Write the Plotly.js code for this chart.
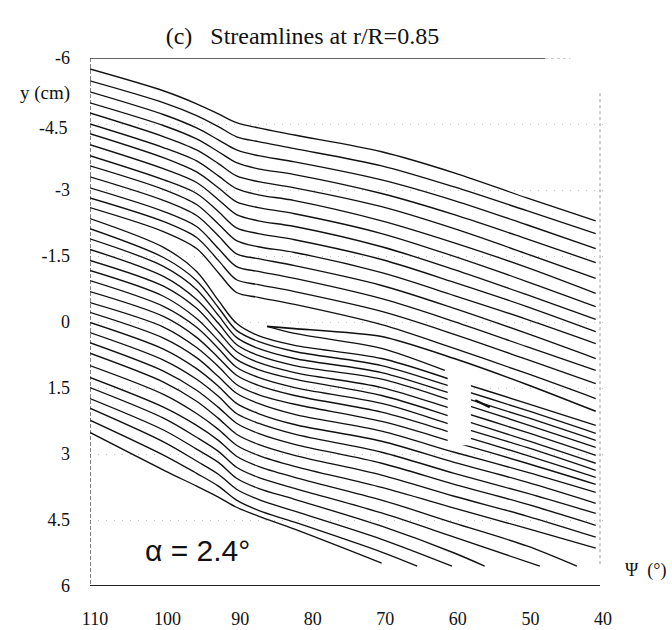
<!DOCTYPE html>
<html>
<head>
<meta charset="utf-8">
<script src="https://cdn.plot.ly/plotly-3.0.1.min.js"></script>
<style>html,body{margin:0;padding:0;background:#fff;}#chart{width:672px;height:630px;}</style>
</head>
<body>
<div id="chart"></div>
<script>
// Azimuth columns (deg) at which the streamlines were read
const psi = [110.7, 100.5, 96, 93, 90.5, 87.5, 82.5, 70.5, 60.5, 50.5, 41];

// Streamlines above the blade (y in cm)
const s00 = [-5.75, -5.25, -4.96, -4.73, -4.53, -4.41, -4.25, -3.87, -3.39, -2.82, -2.30];
const s01 = [-5.48, -4.98, -4.69, -4.44, -4.21, -4.10, -3.94, -3.55, -3.07, -2.53, -2.01];
const s02 = [-5.23, -4.71, -4.41, -4.14, -3.91, -3.78, -3.64, -3.23, -2.76, -2.21, -1.67];
const s03 = [-4.98, -4.46, -4.16, -3.87, -3.62, -3.48, -3.35, -2.92, -2.44, -1.89, -1.35];
const s04 = [-4.75, -4.21, -3.91, -3.60, -3.32, -3.19, -3.05, -2.62, -2.12, -1.55, -0.99];
const s05 = [-4.50, -3.96, -3.66, -3.32, -3.03, -2.89, -2.76, -2.30, -1.80, -1.24, -0.65];
const s06 = [-4.28, -3.73, -3.41, -3.05, -2.73, -2.60, -2.46, -2.01, -1.49, -0.92, -0.35];
const s07 = [-4.03, -3.48, -3.17, -2.78, -2.44, -2.30, -2.17, -1.71, -1.19, -0.62, -0.06];
const s08 = [-3.78, -3.23, -2.92, -2.51, -2.14, -2.01, -1.87, -1.42, -0.90, -0.35, 0.22];
const s09 = [-3.55, -3.01, -2.67, -2.23, -1.85, -1.71, -1.58, -1.12, -0.60, -0.06, 0.49];
const s10 = [-3.30, -2.76, -2.42, -1.96, -1.55, -1.44, -1.28, -0.83, -0.31, 0.26, 0.83];
const s11 = [-3.05, -2.51, -2.17, -1.67, -1.26, -1.15, -0.99, -0.53, -0.01, 0.56, 1.10];
const s12 = [-2.82, -2.28, -1.92, -1.40, -0.96, -0.85, -0.69, -0.24, 0.28, 0.85, 1.40];
const s13 = [-2.60, -2.05, -1.67, -1.12, -0.67, -0.56, -0.40, 0.06, 0.60, 1.17, 1.74];

// Streamlines below the blade
const s14 = [-2.35, -1.69, -1.15, -0.49, 0.03, 0.31, 0.53, 0.83, 1.33, 1.85, 2.35];
const s15 = [-2.12, -1.46, -0.94, -0.33, 0.19, 0.44, 0.67, 0.99, 1.49, 2.01, 2.53];
const s16 = [-1.89, -1.26, -0.74, -0.15, 0.35, 0.60, 0.83, 1.15, 1.65, 2.17, 2.69];
const s17 = [-1.65, -1.03, -0.51, 0.03, 0.51, 0.76, 0.99, 1.30, 1.80, 2.33, 2.85];
const s18 = [-1.40, -0.81, -0.31, 0.22, 0.67, 0.92, 1.15, 1.49, 1.99, 2.51, 3.03];
const s19 = [-1.17, -0.58, -0.08, 0.42, 0.85, 1.08, 1.30, 1.67, 2.17, 2.69, 3.21];
const s20 = [-0.94, -0.35, 0.12, 0.60, 1.03, 1.26, 1.49, 1.85, 2.35, 2.85, 3.37];
const s21 = [-0.69, -0.12, 0.35, 0.81, 1.21, 1.44, 1.67, 2.05, 2.53, 3.03, 3.53];
const s22 = [-0.44, 0.12, 0.58, 1.01, 1.42, 1.65, 1.87, 2.26, 2.73, 3.21, 3.69];
const s23 = [-0.22, 0.37, 0.81, 1.24, 1.62, 1.85, 2.10, 2.48, 2.96, 3.41, 3.87];
const s24 = [0.01, 0.62, 1.06, 1.46, 1.85, 2.08, 2.33, 2.71, 3.19, 3.64, 4.12];
const s25 = [0.24, 0.87, 1.30, 1.69, 2.08, 2.30, 2.55, 2.96, 3.44, 3.89, 4.35];
const s26 = [0.47, 1.12, 1.55, 1.94, 2.30, 2.53, 2.78, 3.21, 3.69, 4.14, 4.62];
const s27 = [0.71, 1.37, 1.80, 2.19, 2.55, 2.78, 3.03, 3.48, 3.96, 4.41, 4.89];
const s28 = [0.99, 1.65, 2.08, 2.44, 2.80, 3.03, 3.28, 3.76, 4.23, 4.69, 5.14];

// Lowest streamlines, which stop at y = 5.55 cm
const psi29 = [110.7, 100.5, 96, 93, 90.5, 87.5, 82.5, 70.5, 60.5, 50.5, 43.6];
const s29 = [1.26, 1.94, 2.35, 2.69, 3.05, 3.28, 3.53, 4.05, 4.57, 5.09, 5.55];
const psi30 = [110.7, 100.5, 96, 93, 90.5, 87.5, 82.5, 70.5, 60.5, 48.7];
const s30 = [1.49, 2.19, 2.62, 2.94, 3.30, 3.53, 3.78, 4.34, 4.89, 5.55];
const psi31 = [110.7, 100.5, 96, 93, 90.5, 87.5, 82.5, 70.5, 60.5, 56.3];
const s31 = [1.74, 2.46, 2.89, 3.19, 3.55, 3.78, 4.03, 4.64, 5.25, 5.55];
const psi32 = [110.7, 100.5, 96, 93, 90.5, 87.5, 82.5, 70.5, 60.8];
const s32 = [1.96, 2.73, 3.16, 3.46, 3.80, 4.03, 4.30, 4.94, 5.55];
const psi33 = [110.7, 100.5, 96, 93, 90.5, 87.5, 82.5, 70.5, 65.6];
const s33 = [2.23, 3.03, 3.44, 3.73, 4.05, 4.28, 4.55, 5.23, 5.55];
const psi34 = [110.7, 100.5, 96, 93, 90.5, 87.5, 82.5, 70.5];
const s34 = [2.51, 3.37, 3.73, 3.98, 4.21, 4.41, 4.71, 5.48];

// Blade wedge near psi = 86 deg
const bladeUpperPsi = [86.3, 82.5, 70.5, 60.5, 50.5, 41];
const bladeUpperY = [0.10, 0.15, 0.33, 0.83, 1.42, 2.03];
const bladeLowerPsi = [86.3, 82.5, 70.5, 61.8];
const bladeLowerY = [0.10, 0.26, 0.60, 1.10];
const fragPsi = [57.6, 55.6];
const fragY = [1.78, 1.94];

const xTicks = [110, 100, 90, 80, 70, 60, 50, 40];
const yTicks = [-6, -4.5, -3, -1.5, 0, 1.5, 3, 4.5, 6];
const yTickText = ['-6', '', '-3', '-1.5', '0', '1.5', '3', '4.5', '6'];

const full = [s00,s01,s02,s03,s04,s05,s06,s07,s08,s09,s10,s11,s12,s13,
              s14,s15,s16,s17,s18,s19,s20,s21,s22,s23,s24,s25,s26,s27,s28];
const partial = [[psi29,s29],[psi30,s30],[psi31,s31],[psi32,s32],[psi33,s33],[psi34,s34]];

const lineStyle = {color:'#111', width:1.35, shape:'spline', smoothing:0.9};
const traces = [];
full.forEach(ys => traces.push({x:psi, y:ys, mode:'lines', line:lineStyle, hoverinfo:'skip'}));
partial.forEach(p => traces.push({x:p[0], y:p[1], mode:'lines', line:lineStyle, hoverinfo:'skip'}));
traces.push({x:bladeUpperPsi, y:bladeUpperY, mode:'lines', line:{color:'#111', width:1.6, shape:'spline', smoothing:0.7}, hoverinfo:'skip'});
traces.push({x:bladeLowerPsi, y:bladeLowerY, mode:'lines', line:{color:'#111', width:1.35, shape:'spline', smoothing:0.7}, hoverinfo:'skip'});
traces.push({x:fragPsi, y:fragY, mode:'lines', line:{color:'#111', width:2.2}, hoverinfo:'skip'});

const serif = 'Liberation Serif, Times New Roman, serif';
const layout = {
  width:672, height:630,
  margin:{l:90, r:68, t:58, b:44},
  paper_bgcolor:'#fff', plot_bgcolor:'#fff',
  showlegend:false,
  title:{text:'(c)&nbsp;&nbsp; Streamlines at r/R=0.85', font:{family:serif, size:24, color:'#111'},
         xref:'container', yref:'container', x:0.45, xanchor:'center', y:0.943, yanchor:'middle'},
  xaxis:{range:[110.69, 39.86], tickvals:xTicks, ticktext:xTicks.map(String), showgrid:false, zeroline:false,
         showline:false, ticks:'', ticklabelstandoff:20, tickfont:{family:serif, size:18, color:'#111'}},
  yaxis:{range:[6, -6], tickvals:yTicks, ticktext:yTickText, showgrid:true, gridcolor:'#c4c4c4', griddash:'1px,7px', gridwidth:1,
         zeroline:false, showline:false, ticks:'', ticklabelstandoff:19, tickfont:{family:serif, size:18, color:'#111'}},
  shapes:[
    {type:'rect', xref:'x', yref:'y', x0:61.4, x1:58.2, y0:1.0, y1:2.8, fillcolor:'#fff', line:{width:0}, layer:'above'},
    {type:'line', xref:'x', yref:'y', x0:110.69, x1:110.69, y0:-6, y1:6, line:{color:'#333', width:1.2, dash:'4px,2px'}},
    {type:'line', xref:'x', yref:'y', x0:110.69, x1:40.41, y0:6, y1:6, line:{color:'#222', width:1.8}},
    {type:'line', xref:'x', yref:'y', x0:110.69, x1:48.0, y0:-6, y1:-6, line:{color:'#333', width:1.3}},
    {type:'line', xref:'x', yref:'y', x0:48.0, x1:44.5, y0:-6, y1:-6, line:{color:'#999', width:1, dash:'dot'}},
    {type:'line', xref:'x', yref:'y', x0:40.41, x1:40.41, y0:-5.2, y1:5.5, line:{color:'#999', width:1, dash:'dot'}}
  ],
  annotations:[
    {text:'y (cm)', xref:'paper', yref:'y', x:-0.088, y:-5.2, xanchor:'center', yanchor:'middle', showarrow:false,
     font:{family:serif, size:19, color:'#111'}},
    {text:'-4.5', xref:'paper', yref:'y', x:-0.039, y:-4.4, xanchor:'right', yanchor:'middle', showarrow:false,
     font:{family:serif, size:18, color:'#111'}},
    {text:'\u03b1 = 2.4\u00b0', xref:'x', yref:'y', x:95.9, y:5.2, xanchor:'center', yanchor:'middle', showarrow:false,
     font:{family:'Liberation Sans, Arial, sans-serif', size:30, color:'#111'}},
    {text:'\u03a8 &nbsp;(\u00b0)', xref:'paper', yref:'y', x:1.036, y:5.65, xanchor:'left', yanchor:'middle', showarrow:false,
     font:{family:serif, size:18, color:'#111'}}
  ]
};
Plotly.newPlot('chart', traces, layout, {displayModeBar:false, staticPlot:true});
</script>
</body>
</html>
